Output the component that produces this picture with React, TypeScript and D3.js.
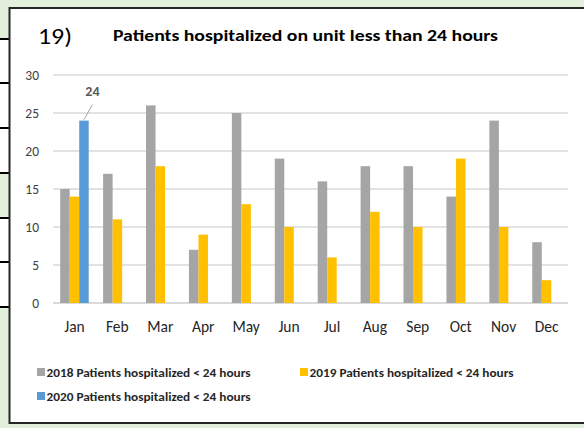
import React from "react";
import * as d3 from "d3";

const months = ["Jan", "Feb", "Mar", "Apr", "May", "Jun", "Jul", "Aug", "Sep", "Oct", "Nov", "Dec"];
const v2018 = [15, 17, 26, 7, 25, 19, 16, 18, 18, 14, 24, 8];
const v2019 = [14, 11, 18, 9, 13, 10, 6, 12, 10, 19, 10, 3];
const v2020: (number | null)[] = [24, null, null, null, null, null, null, null, null, null, null, null];
const seriesNames = [
  "2018 Patients hospitalized < 24 hours",
  "2019 Patients hospitalized < 24 hours",
  "2020 Patients hospitalized < 24 hours",
];
const seriesColors = ["#a5a5a5", "#ffc000", "#5b9bd5"];
const yTicks = [0, 5, 10, 15, 20, 25, 30];
const title = "Patients hospitalized on unit less than 24 hours";
const prefix = "19)";

const W = 584;
const H = 428;
const FONT = "Carlito, Lato, 'Liberation Sans', sans-serif";

export default function App() {
  const y = d3.scaleLinear().domain([0, 30]).range([303, 75]);
  const x = d3
    .scaleBand<string>()
    .domain(months)
    .range([53, 568])
    .paddingInner(0.335)
    .paddingOuter(0.1675);
  const keys = ["s0", "s1", "s2"];
  const inner = d3.scaleBand<string>().domain(keys).range([0, x.bandwidth()]);
  const series = [v2018, v2019, v2020];

  const stripLines = [39, 83, 128, 173, 218, 262, 307];
  const stripWhite = [
    [39, 173],
    [218, 307],
  ];

  const janX = (x("Jan") as number) + (inner("s2") as number) + inner.bandwidth() / 2;
  const jan2020 = v2020[0] as number;

  return (
    <svg
      width={W}
      height={H}
      style={{ position: "absolute", left: 0, top: 0, fontFamily: FONT }}
    >
      <rect x={0} y={0} width={W} height={H} fill="#e2efda" />
      {stripWhite.map(([a, b], i) => (
        <rect key={i} x={0} y={a} width={10} height={b - a} fill="#ffffff" />
      ))}
      {stripLines.map((ly, i) => (
        <line key={i} x1={0} x2={10} y1={ly} y2={ly} stroke="#000" strokeWidth={2} />
      ))}
      <rect x={9.5} y={8} width={W} height={415} fill="#ffffff" stroke="#262626" strokeWidth={2} />

      <text x={38} y={43.5} fontSize={23} fill="#000" textLength={34} lengthAdjust="spacingAndGlyphs">
        {prefix}
      </text>
      <text
        x={113}
        y={40.5}
        fontSize={15.5}
        fontWeight="bold"
        fill="#000"
        textLength={385}
        lengthAdjust="spacingAndGlyphs"
      >
        {title}
      </text>

      {yTicks.map((t) => (
        <g key={t}>
          <line
            x1={53}
            x2={568}
            y1={y(t)}
            y2={y(t)}
            stroke="#d9d9d9"
            strokeWidth={t === 0 ? 1.8 : 1.4}
          />
          <text x={39} y={y(t) + 4.8} fontSize={13.5} textAnchor="end" fill="#404040">
            {t}
          </text>
        </g>
      ))}

      {months.map((m, i) => (
        <g key={m} transform={`translate(${x(m)},0)`}>
          {series.map((s, j) => {
            const v = s[i];
            if (v === null || v === undefined) return null;
            return (
              <rect
                key={j}
                x={inner(keys[j]) as number}
                y={y(v)}
                width={inner.bandwidth()}
                height={y(0) - y(v)}
                fill={seriesColors[j]}
              />
            );
          })}
          <text
            x={x.bandwidth() / 2}
            y={331.5}
            fontSize={15.5}
            textAnchor="middle"
            fill="#262626"
          >
            {m}
          </text>
        </g>
      ))}

      <line
        x1={janX}
        y1={y(jan2020) - 1}
        x2={janX + 8.5}
        y2={y(jan2020) - 16}
        stroke="#a6a6a6"
        strokeWidth={1}
      />
      <text x={janX + 8.5} y={96} fontSize={14} fontWeight="bold" textAnchor="middle" fill="#595959">
        {jan2020}
      </text>

      {seriesNames.map((name, i) => {
        const lx = i === 1 ? 300 : 37;
        const ly = i === 2 ? 396 : 372;
        return (
          <g key={name}>
            <rect x={lx} y={ly - 4} width={8} height={8} fill={seriesColors[i]} />
            <text
              x={lx + 9.5}
              y={ly + 4.5}
              fontSize={12.5}
              fontWeight="bold"
              fill="#262626"
              textLength={204}
              lengthAdjust="spacingAndGlyphs"
            >
              {name}
            </text>
          </g>
        );
      })}
    </svg>
  );
}
